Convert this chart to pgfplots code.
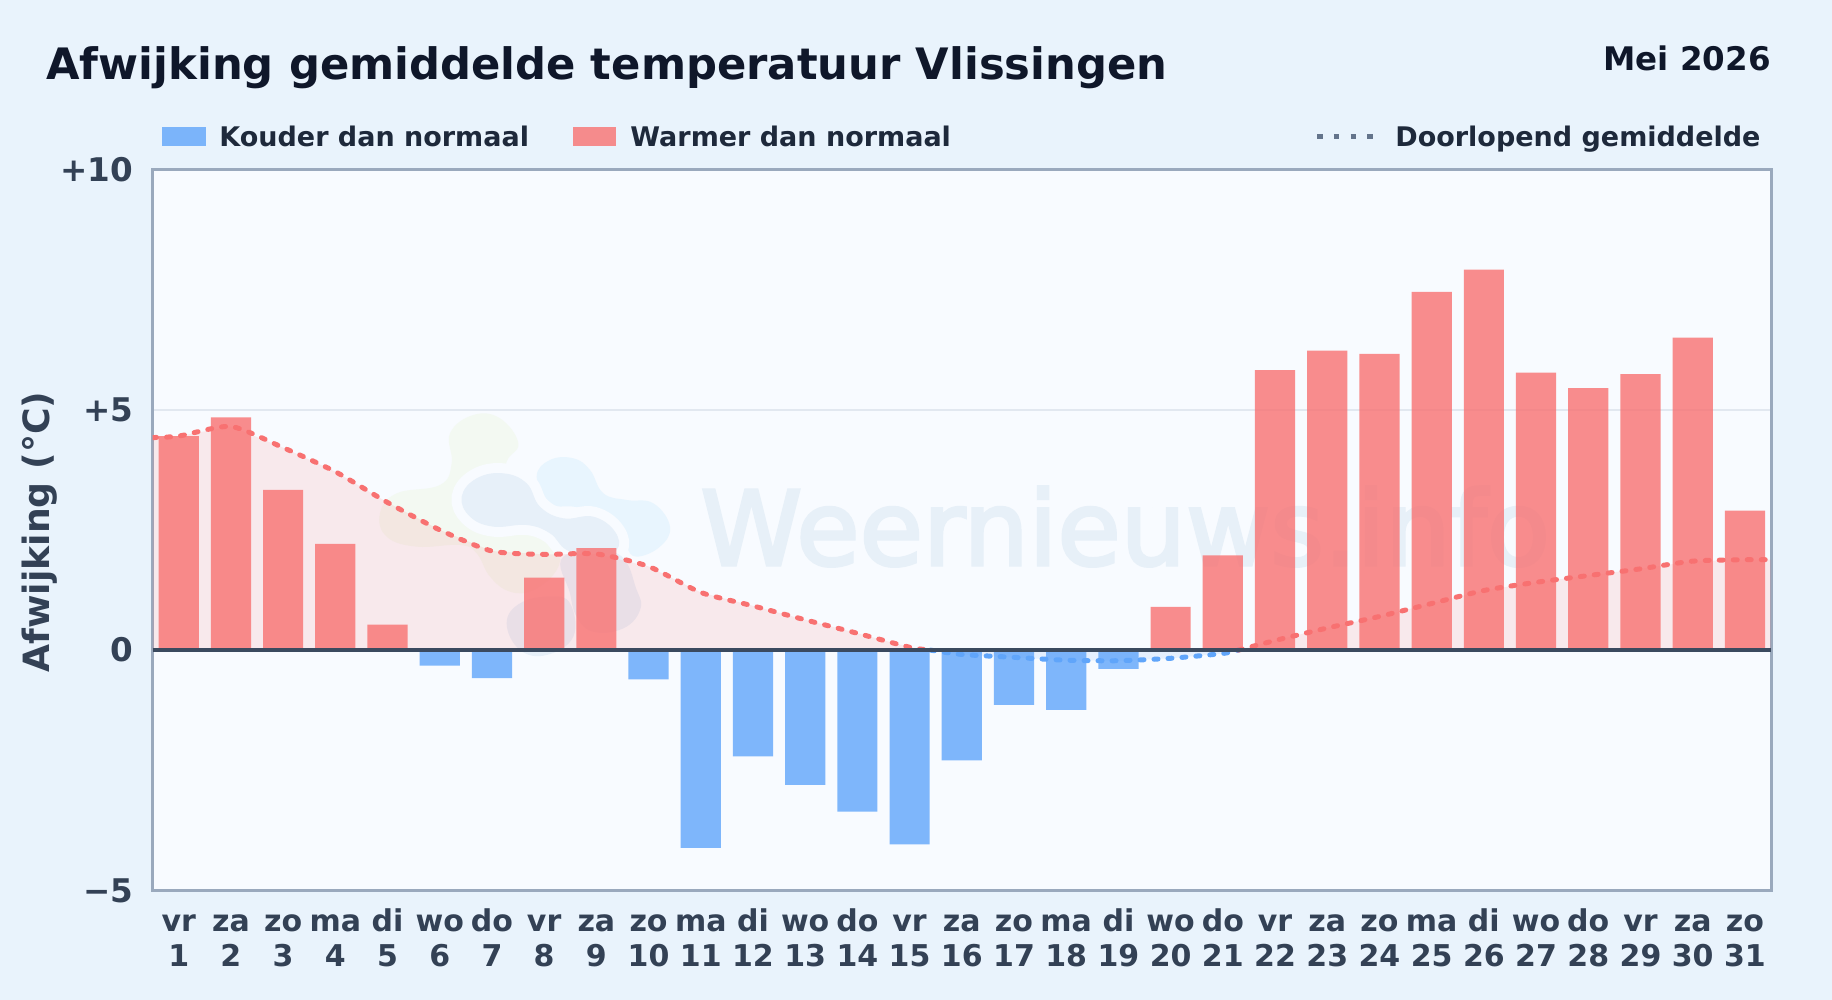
\documentclass[border=0pt]{standalone}
\usepackage{fontspec}
\setmainfont{DejaVu Sans}
\newfontfamily\wmfont[FakeBold=3]{DejaVu Sans}
\usepackage{pgfplots}
\usepackage{pgfplotstable}
\pgfplotsset{compat=1.18}

\definecolor{pagebg}{HTML}{E9F3FC}
\definecolor{plotbg}{HTML}{F8FBFF}
\definecolor{warm}{HTML}{F87171}
\definecolor{cold}{HTML}{60A5FA}
\definecolor{frame}{HTML}{9AA9BD}
\definecolor{zeroline}{HTML}{3B4A5F}
\definecolor{gridc}{HTML}{E2E8F0}
\definecolor{ticktext}{HTML}{334155}
\definecolor{legtext}{HTML}{1E293B}
\definecolor{titletext}{HTML}{0F172A}
\definecolor{legdots}{HTML}{64748B}
\definecolor{wmark}{HTML}{E7F0F8}
\definecolor{logoA}{HTML}{E8F5FE}
\definecolor{logoB}{HTML}{F3F9F2}
\definecolor{logoC}{HTML}{E7F0F9}

% two line day label, strut keeps the baselines level
\newcommand{\dl}[2]{\rule{0pt}{12pt}#1\\#2}

% warm days (above normal)
\pgfplotstableread{
day dev
1 4.45
2 4.84
3 3.33
4 2.21
5 0.53
8 1.51
9 2.12
20 0.90
21 1.97
22 5.82
23 6.23
24 6.16
25 7.45
26 7.91
27 5.77
28 5.45
29 5.74
30 6.50
31 2.90
}\warmdays

% cold days (below normal)
\pgfplotstableread{
day dev
6 -0.32
7 -0.58
10 -0.61
11 -4.11
12 -2.21
13 -2.80
14 -3.36
15 -4.04
16 -2.29
17 -1.14
18 -1.24
19 -0.39
}\colddays

% running mean, split at the zero crossings
\pgfplotstableread{
day mean
0.5 4.42
1 4.45
2 4.65
3 4.21
4 3.71
5 3.07
6 2.50
7 2.06
8 1.99
9 2.00
10 1.74
11 1.20
12 0.92
13 0.63
14 0.35
15 0.06
15.4 0
}\meanA
\pgfplotstableread{
day mean
15.4 0
16 -0.09
17 -0.15
18 -0.21
19 -0.22
20 -0.17
21 -0.07
21.3 0
}\meanB
\pgfplotstableread{
day mean
21.3 0
22 0.20
23 0.46
24 0.70
25 0.97
26 1.24
27 1.41
28 1.55
29 1.69
30 1.85
31 1.88
31.5 1.88
}\meanC

\begin{document}
\begin{tikzpicture}
% page and plot background
\fill[pagebg] (0,0) rectangle (916pt,500pt);
\fill[plotbg] (76.3pt,54.7pt) rectangle (885.5pt,415.4pt);

% logo blobs behind the plot, coordinates as in a crop of the picture
\begin{scope}[shift={(180pt,305pt)},x=0.16667pt,y=-0.16667pt]
  \fill[logoA] plot[smooth cycle,tension=0.7] coordinates {(530,260)(570,210)(640,205)(690,240)(730,310)(800,330)(880,340)(930,410)(900,470)(830,500)(800,470)(790,420)(730,365)(640,350)(570,340)};
  \fill[logoB] plot[smooth cycle,tension=0.7] coordinates {(270,130)(340,75)(420,85)(475,160)(440,215)(430,300)(520,420)(590,480)(590,540)(520,600)(450,605)(390,560)(350,490)(300,465)(170,470)(80,440)(60,370)(110,310)(240,285)(275,220)};
  \draw[plotbg,line width=10pt] plot[smooth cycle,tension=0.7] coordinates {(305,320)(350,265)(430,250)(500,280)(540,350)(610,385)(700,380)(765,425)(770,480)(700,500)(620,480)(570,430)(500,405)(400,410)(330,380)};
  \fill[logoC] plot[smooth cycle,tension=0.7] coordinates {(305,320)(350,265)(430,250)(500,280)(540,350)(610,385)(700,380)(765,425)(770,480)(700,500)(620,480)(570,430)(500,405)(400,410)(330,380)};
  \fill[logoC] plot[smooth cycle,tension=0.7] coordinates {(610,500)(770,490)(830,600)(840,660)(790,715)(700,725)(650,680)(630,610)};
  \fill[logoC] plot[smooth cycle,tension=0.7] coordinates {(440,700)(480,640)(570,620)(630,640)(640,740)(560,795)(480,780)};
\end{scope}

% watermark
\node[anchor=base west,inner sep=0pt,text=wmark,font=\wmfont\fontsize{51.5}{51.5}\selectfont] at (350pt,217.5pt) {Weernieuws.info};

\begin{axis}[
  at={(76.3pt,54.7pt)}, anchor=south west,
  scale only axis,
  width=809.2pt, height=360.7pt,
  xmin=0.5, xmax=31.5,
  ymin=-5, ymax=10,
  separate axis lines,
  axis line style={frame,line width=1.5pt,line cap=rect},
  major tick length=0pt,
  ytick={-5,0,5,10},
  yticklabels={−5,0,+5,+10},
  xtick={1,2,...,31},
  xticklabels={{\dl{vr}{1}},{\dl{za}{2}},{\dl{zo}{3}},{\dl{ma}{4}},{\dl{di}{5}},{\dl{wo}{6}},{\dl{do}{7}},{\dl{vr}{8}},{\dl{za}{9}},{\dl{zo}{10}},{\dl{ma}{11}},{\dl{di}{12}},{\dl{wo}{13}},{\dl{do}{14}},{\dl{vr}{15}},{\dl{za}{16}},{\dl{zo}{17}},{\dl{ma}{18}},{\dl{di}{19}},{\dl{wo}{20}},{\dl{do}{21}},{\dl{vr}{22}},{\dl{za}{23}},{\dl{zo}{24}},{\dl{ma}{25}},{\dl{di}{26}},{\dl{wo}{27}},{\dl{do}{28}},{\dl{vr}{29}},{\dl{za}{30}},{\dl{zo}{31}}},
  xticklabel style={align=center,text=ticktext,font=\fontsize{15}{17.3}\selectfont\bfseries,inner sep=0pt},
  yticklabel style={text=ticktext,font=\fontsize{16.3}{16.3}\selectfont\bfseries,inner sep=0pt},
  xticklabel shift=8.5pt,
  yticklabel shift=9.5pt,
  ymajorgrids,
  grid style={gridc,line width=1pt},
  ylabel={Afwijking (°C)},
  every axis y label/.style={at={(axis description cs:-0.0698,0.497)},rotate=90,anchor=center,text=ticktext,font=\fontsize{18.1}{18.1}\selectfont\bfseries},
  clip=true,
]
% shaded area between running mean and zero
\addplot[fill=warm,fill opacity=0.13,draw=none] table[x=day,y=mean] {\meanA} -- (axis cs:15.4,0) -- (axis cs:0.5,0) -- cycle;
\addplot[fill=cold,fill opacity=0.13,draw=none] table[x=day,y=mean] {\meanB} -- cycle;
\addplot[fill=warm,fill opacity=0.13,draw=none] table[x=day,y=mean] {\meanC} -- (axis cs:31.5,0) -- (axis cs:21.3,0) -- cycle;

% daily bars
\addplot[ybar,bar width=0.77,bar shift=0pt,fill=warm,fill opacity=0.8,draw=none] table[x=day,y=dev] {\warmdays};
\addplot[ybar,bar width=0.77,bar shift=0pt,fill=cold,fill opacity=0.8,draw=none] table[x=day,y=dev] {\colddays};

% running mean
\addplot[warm,smooth,tension=0.4,line width=2.5pt,line cap=round,dash pattern=on 2pt off 5pt] table[x=day,y=mean] {\meanA};
\addplot[cold,smooth,tension=0.4,line width=2.5pt,line cap=round,dash pattern=on 2pt off 5pt] table[x=day,y=mean] {\meanB};
\addplot[warm,smooth,tension=0.4,line width=2.5pt,line cap=round,dash pattern=on 2pt off 5pt] table[x=day,y=mean] {\meanC};

% zero line
\addplot[zeroline,line width=2pt] coordinates {(0.5,0) (31.5,0)};
\end{axis}

% title
\node[anchor=base west,inner sep=0pt,text=titletext,font=\fontsize{21.65}{22}\selectfont\bfseries] at (23pt,460.3pt) {Afwijking gemiddelde temperatuur Vlissingen};
\node[anchor=base east,inner sep=0pt,text=titletext,font=\fontsize{16.25}{16.25}\selectfont\bfseries] at (885.5pt,464.5pt) {Mei 2026};

% legend
\fill[cold,opacity=0.8] (81pt,427pt) rectangle (103pt,436.5pt);
\node[anchor=base west,inner sep=0pt,text=legtext,font=\fontsize{13.5}{13.5}\selectfont\bfseries] at (109.5pt,426.5pt) {Kouder dan normaal};
\fill[warm,opacity=0.8] (286.5pt,427pt) rectangle (308pt,436.5pt);
\node[anchor=base west,inner sep=0pt,text=legtext,font=\fontsize{13.5}{13.5}\selectfont\bfseries] at (315pt,426.5pt) {Warmer dan normaal};
\draw[legdots,line width=2.5pt,dash pattern=on 2.8pt off 5.6pt] (658.5pt,431.5pt) -- (686.5pt,431.5pt);
\node[anchor=base west,inner sep=0pt,text=legtext,font=\fontsize{13.5}{13.5}\selectfont\bfseries] at (697.5pt,426.5pt) {Doorlopend gemiddelde};
\end{tikzpicture}
\end{document}
